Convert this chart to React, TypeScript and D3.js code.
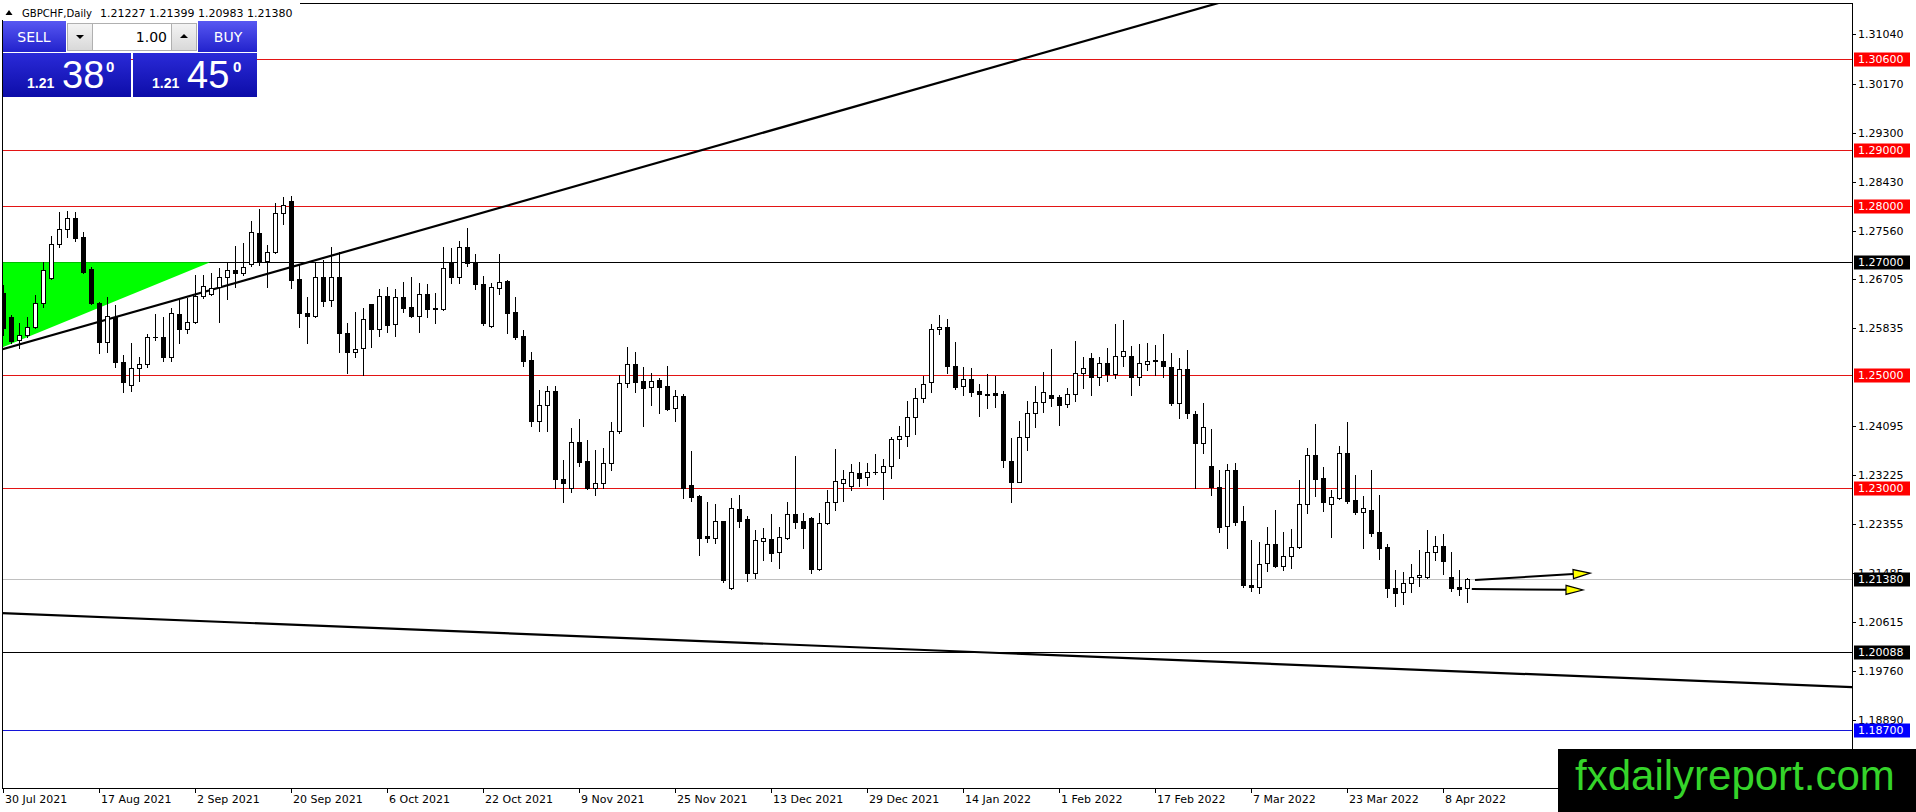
import * as d3 from "d3";
import { useEffect } from "react";

const W = 1916;
const H = 812;
const plot = { left: 2, top: 3, right: 1852, bottom: 788 };
const FONT = "'DejaVu Sans', Tahoma, 'Liberation Sans', Arial, sans-serif";

// header / trade panel text
const symbol = "GBPCHF,Daily";
const lastQuote = ["1.21227", "1.21399", "1.20983", "1.21380"];
const lotSize = "1.00";
const sellQuote = ["1.21", "38", "0"];
const buyQuote = ["1.21", "45", "0"];

// daily bars [open, high, low, close], weekdays from 30 Jul 2021
const ohlc: [number, number, number, number][] = [
  [1.2646, 1.266, 1.2571, 1.2584], [1.2603, 1.2607, 1.2557, 1.2561], [1.2562, 1.2592, 1.2548, 1.2571],
  [1.2571, 1.2603, 1.2568, 1.2585], [1.2585, 1.2642, 1.2584, 1.2628], [1.2628, 1.2701, 1.2621, 1.2686],
  [1.2672, 1.2747, 1.267, 1.2733], [1.2733, 1.2789, 1.2727, 1.2759], [1.2759, 1.2791, 1.2745, 1.2779],
  [1.2779, 1.2789, 1.2738, 1.2743], [1.2745, 1.2754, 1.2681, 1.2683], [1.2688, 1.2692, 1.2626, 1.2628],
  [1.2628, 1.2629, 1.2539, 1.2559], [1.2559, 1.2639, 1.2541, 1.2605], [1.2603, 1.2624, 1.2514, 1.2523],
  [1.2523, 1.2536, 1.247, 1.2488], [1.2483, 1.2557, 1.2472, 1.2513], [1.2513, 1.2532, 1.249, 1.252],
  [1.252, 1.2573, 1.2514, 1.2568], [1.2568, 1.2608, 1.2562, 1.2567], [1.2568, 1.2603, 1.2525, 1.2532],
  [1.2532, 1.2619, 1.2525, 1.261], [1.2608, 1.2633, 1.2557, 1.2582], [1.2582, 1.2637, 1.2575, 1.2594],
  [1.2594, 1.2678, 1.2592, 1.264], [1.264, 1.2678, 1.2637, 1.2658], [1.2644, 1.2681, 1.2642, 1.2655],
  [1.2656, 1.269, 1.2594, 1.2674], [1.2674, 1.2701, 1.2635, 1.2686], [1.2686, 1.2729, 1.2656, 1.2681],
  [1.2681, 1.2734, 1.2678, 1.2692], [1.2697, 1.2773, 1.2694, 1.2754], [1.2752, 1.2795, 1.2695, 1.2701],
  [1.2702, 1.2731, 1.2656, 1.2718], [1.2718, 1.2805, 1.2717, 1.2788], [1.2788, 1.2816, 1.2768, 1.2802],
  [1.2809, 1.2818, 1.2655, 1.2669], [1.267, 1.2695, 1.2585, 1.261], [1.261, 1.2639, 1.2557, 1.2605],
  [1.2605, 1.2701, 1.2603, 1.2674], [1.2674, 1.2704, 1.2623, 1.2631], [1.2633, 1.2727, 1.2623, 1.2674],
  [1.2674, 1.2718, 1.2541, 1.2575], [1.2575, 1.2592, 1.2504, 1.2541], [1.2541, 1.2612, 1.2532, 1.2546],
  [1.2548, 1.2619, 1.25, 1.26], [1.2626, 1.2627, 1.255, 1.2582], [1.2582, 1.2653, 1.2569, 1.264],
  [1.264, 1.2656, 1.2576, 1.2589], [1.2591, 1.2653, 1.2569, 1.2639], [1.2639, 1.2665, 1.2612, 1.2619],
  [1.2621, 1.2674, 1.2603, 1.2605], [1.2605, 1.2663, 1.2576, 1.2644], [1.2644, 1.2662, 1.2603, 1.2617],
  [1.2619, 1.2646, 1.2592, 1.2617], [1.2617, 1.2727, 1.2616, 1.269], [1.2701, 1.2725, 1.2663, 1.2674],
  [1.2674, 1.2738, 1.2663, 1.2727], [1.2727, 1.2761, 1.2694, 1.2699], [1.2701, 1.2715, 1.2653, 1.2662],
  [1.2662, 1.2676, 1.2589, 1.2592], [1.2587, 1.2663, 1.2586, 1.2656], [1.2655, 1.2715, 1.2644, 1.2665],
  [1.2667, 1.2669, 1.2575, 1.261], [1.2612, 1.2639, 1.2564, 1.2568], [1.2569, 1.258, 1.2516, 1.2525],
  [1.2527, 1.2541, 1.241, 1.2419], [1.2419, 1.2474, 1.2401, 1.2447], [1.2447, 1.2481, 1.2401, 1.2472],
  [1.2472, 1.2481, 1.23, 1.2316], [1.2316, 1.235, 1.2275, 1.2309], [1.23, 1.2406, 1.2293, 1.2382],
  [1.2382, 1.2422, 1.2339, 1.2346], [1.2348, 1.2385, 1.2298, 1.23], [1.23, 1.2367, 1.2287, 1.2309],
  [1.2309, 1.2371, 1.23, 1.2344], [1.2344, 1.2417, 1.2332, 1.2401], [1.2401, 1.25, 1.2397, 1.2486],
  [1.2486, 1.255, 1.2479, 1.252], [1.252, 1.2541, 1.247, 1.2488], [1.249, 1.2514, 1.241, 1.2477],
  [1.2479, 1.2504, 1.2447, 1.249], [1.2491, 1.2495, 1.2433, 1.2479], [1.2481, 1.2516, 1.2438, 1.244],
  [1.2442, 1.2474, 1.2419, 1.2463], [1.2463, 1.2467, 1.2282, 1.23], [1.2305, 1.2365, 1.2277, 1.2284],
  [1.2286, 1.2287, 1.2181, 1.2211], [1.2215, 1.2275, 1.2204, 1.2211], [1.2211, 1.2272, 1.2202, 1.2241],
  [1.2241, 1.2242, 1.2133, 1.2137], [1.2123, 1.2283, 1.2121, 1.2264], [1.2263, 1.2287, 1.2231, 1.2241],
  [1.2245, 1.225, 1.2135, 1.2149], [1.2149, 1.2225, 1.214, 1.2208], [1.2206, 1.2229, 1.2172, 1.2211],
  [1.2209, 1.2254, 1.217, 1.2185], [1.2186, 1.2231, 1.2158, 1.2213], [1.2211, 1.2275, 1.221, 1.2254],
  [1.2254, 1.2357, 1.2229, 1.224], [1.2241, 1.2256, 1.2194, 1.2229], [1.2247, 1.2248, 1.2149, 1.2156],
  [1.2156, 1.2256, 1.2154, 1.2238], [1.2238, 1.2296, 1.2236, 1.2275], [1.2275, 1.2369, 1.2261, 1.2312],
  [1.2309, 1.2332, 1.2277, 1.2316], [1.2303, 1.2342, 1.2296, 1.2328], [1.2326, 1.2346, 1.2303, 1.2318],
  [1.2319, 1.2344, 1.2305, 1.2328], [1.2328, 1.236, 1.2325, 1.2329], [1.2328, 1.2351, 1.228, 1.2339],
  [1.2339, 1.239, 1.2318, 1.2387], [1.2387, 1.241, 1.2353, 1.2392], [1.2392, 1.2454, 1.2374, 1.2426],
  [1.2426, 1.2477, 1.2396, 1.2459], [1.2459, 1.2499, 1.2452, 1.2484], [1.2488, 1.2591, 1.247, 1.2582],
  [1.2582, 1.2607, 1.2573, 1.2585], [1.2585, 1.26, 1.2504, 1.2516], [1.2516, 1.2559, 1.2476, 1.2479],
  [1.2481, 1.2514, 1.2465, 1.2493], [1.2493, 1.2513, 1.2463, 1.247], [1.2472, 1.2484, 1.2428, 1.2467],
  [1.2465, 1.2502, 1.2442, 1.2466], [1.2468, 1.2499, 1.2444, 1.2465], [1.2467, 1.2472, 1.2337, 1.235],
  [1.2348, 1.2389, 1.2275, 1.2311], [1.2311, 1.2419, 1.231, 1.239], [1.239, 1.2454, 1.2367, 1.2433],
  [1.2433, 1.2481, 1.2408, 1.2452], [1.2452, 1.2506, 1.2435, 1.247], [1.2465, 1.2546, 1.2445, 1.2459],
  [1.2461, 1.2465, 1.2412, 1.2447], [1.2449, 1.2477, 1.2444, 1.2467], [1.2467, 1.2561, 1.2454, 1.2504],
  [1.2504, 1.2532, 1.2477, 1.2513], [1.253, 1.2539, 1.2465, 1.2497], [1.2497, 1.2532, 1.2483, 1.2522],
  [1.2522, 1.2548, 1.249, 1.2502], [1.2502, 1.2591, 1.2495, 1.2534], [1.2534, 1.2598, 1.2516, 1.2543],
  [1.2534, 1.2552, 1.2465, 1.2497], [1.2497, 1.2555, 1.2483, 1.2522], [1.252, 1.2557, 1.2509, 1.2525],
  [1.2525, 1.2554, 1.25, 1.2526], [1.2525, 1.2573, 1.2497, 1.2516], [1.2514, 1.2539, 1.2447, 1.2451],
  [1.2451, 1.253, 1.2424, 1.2511], [1.2511, 1.2545, 1.2424, 1.2433], [1.2431, 1.2436, 1.23, 1.238],
  [1.238, 1.2451, 1.2362, 1.2408], [1.2339, 1.2404, 1.2287, 1.2302], [1.2302, 1.2332, 1.2222, 1.2231],
  [1.2233, 1.2342, 1.2194, 1.2332], [1.2332, 1.2344, 1.2234, 1.224], [1.2241, 1.2268, 1.2124, 1.2128],
  [1.2128, 1.2208, 1.2117, 1.2124], [1.2124, 1.2204, 1.2114, 1.2165], [1.2167, 1.2231, 1.2153, 1.2201],
  [1.2201, 1.2261, 1.216, 1.2162], [1.2162, 1.2222, 1.2155, 1.2179], [1.2179, 1.2227, 1.2158, 1.2195],
  [1.2195, 1.2314, 1.2194, 1.2271], [1.2271, 1.2371, 1.2256, 1.2358], [1.2358, 1.2413, 1.2286, 1.2316],
  [1.2318, 1.2337, 1.2259, 1.2275], [1.2271, 1.2296, 1.2213, 1.2284], [1.2282, 1.2374, 1.228, 1.2362],
  [1.2362, 1.2417, 1.2273, 1.2277], [1.2279, 1.2323, 1.2254, 1.2257], [1.2257, 1.2286, 1.2194, 1.2264],
  [1.2261, 1.2332, 1.2215, 1.222], [1.2222, 1.2287, 1.2174, 1.2194], [1.2195, 1.2201, 1.2107, 1.2123],
  [1.2123, 1.2155, 1.2091, 1.2114], [1.2116, 1.2151, 1.2094, 1.2132], [1.2132, 1.2165, 1.2115, 1.2142],
  [1.2142, 1.219, 1.2126, 1.2145], [1.2142, 1.2225, 1.2141, 1.2186], [1.2186, 1.2215, 1.2172, 1.2197],
  [1.2197, 1.2218, 1.2147, 1.217], [1.2142, 1.2186, 1.2117, 1.2123], [1.2124, 1.2155, 1.211, 1.2121],
  [1.21227, 1.21399, 1.20983, 1.2138],
];

const dateLabels = [
  "30 Jul 2021", "17 Aug 2021", "2 Sep 2021", "20 Sep 2021", "6 Oct 2021", "22 Oct 2021",
  "9 Nov 2021", "25 Nov 2021", "13 Dec 2021", "29 Dec 2021", "14 Jan 2022", "1 Feb 2022",
  "17 Feb 2022", "7 Mar 2022", "23 Mar 2022", "8 Apr 2022",
];

const priceTicks = [
  1.3104, 1.3017, 1.293, 1.2843, 1.2756, 1.26705, 1.25835, 1.24095, 1.23225, 1.22355,
  1.21485, 1.20615, 1.1976, 1.1889,
];

// horizontal levels drawn on the chart
const redLevels = [1.306, 1.29, 1.28, 1.25, 1.23];
const blackLevels = [1.27, 1.20088];
const blueLevels = [1.187];
const bidPrice = 1.2138;

// objects as [bar index, price] anchors
const risingLine: [number, number][] = [[0, 1.2546], [150, 1.3152]];
const fallingLine: [number, number][] = [[0, 1.2078], [231, 1.1947]];
const greenTriangle: [number, number][] = [[-2, 1.27], [25.9, 1.27], [-2, 1.2538]];
const arrows: [number, number][][] = [
  [[184, 1.2137], [198.4, 1.2149]],
  [[183.6, 1.2121], [197.5, 1.2119]],
];

const x = d3
  .scaleLinear()
  .domain([-0.125, 231.125])
  .range([plot.left, plot.right]);
const y = d3
  .scaleLinear()
  .domain([1.1768, 1.31598])
  .range([plot.bottom, plot.top]);

const crisp = (v: number) => Math.round(v) + 0.5;

// weekday calendar for the bars
const dates: Date[] = [];
for (let d = new Date(2021, 6, 30); dates.length < ohlc.length; d = d3.timeDay.offset(d, 1)) {
  if (d.getDay() !== 0 && d.getDay() !== 6) dates.push(d);
}
const fmt = d3.timeFormat("%-d %b %Y");

function extend(pts: [number, number][]) {
  const [[i0, p0], [i1, p1]] = pts;
  const k = (p1 - p0) / (i1 - i0);
  const a = -2;
  const b = 240;
  return [
    [x(a), y(p0 + k * (a - i0))],
    [x(b), y(p0 + k * (b - i0))],
  ];
}

function Arrow({ pts }: { pts: [number, number][] }) {
  const [x0, y0] = [x(pts[0][0]), y(pts[0][1])];
  const [x1, y1] = [x(pts[1][0]), y(pts[1][1])];
  const ang = Math.atan2(y1 - y0, x1 - x0);
  const len = 17;
  const hw = 4.5;
  const bx = x1 - len * Math.cos(ang);
  const by = y1 - len * Math.sin(ang);
  const px = -Math.sin(ang) * hw;
  const py = Math.cos(ang) * hw;
  return (
    <g>
      <line x1={x0} y1={y0} x2={bx} y2={by} stroke="#000" strokeWidth={2} />
      <polygon
        points={`${x1},${y1} ${bx + px},${by + py} ${bx - px},${by - py}`}
        fill="#ffff00"
        stroke="#000"
        strokeWidth={1.2}
      />
    </g>
  );
}

function LevelLabel({ price, bg }: { price: number; bg: string }) {
  const yy = Math.round(y(price));
  return (
    <g>
      <rect x={1854} y={yy - 6.5} width={56} height={14} fill={bg} />
      <text x={1858} y={yy + 0.5} dominantBaseline="central" fill="#fff" fontSize={11}>
        {price.toFixed(5)}
      </text>
    </g>
  );
}

function PricePanel({ x0, w, quote, label }: { x0: number; w: number; quote: string[]; label: string }) {
  const small = label === "SELL" ? 27 : 152;
  const big = label === "SELL" ? 62 : 187;
  const sup = label === "SELL" ? 106 : 233;
  return (
    <g>
      <rect x={x0} y={53} width={w} height={44} fill="url(#priceGrad)" />
      <text x={small} y={88} fill="#fff" fontSize={14} fontWeight="bold" fontFamily="'Liberation Sans', Arial, sans-serif">
        {quote[0]}
      </text>
      <text x={big} y={88} fill="#fff" fontSize={38} fontFamily="'Liberation Sans', Arial, sans-serif">
        {quote[1]}
      </text>
      <text x={sup} y={72} fill="#fff" fontSize={15} fontWeight="bold" fontFamily="'Liberation Sans', Arial, sans-serif">
        {quote[2]}
      </text>
    </g>
  );
}

export default function App() {
  useEffect(() => {
    document.body.style.margin = "0";
  }, []);

  const rising = extend(risingLine);
  const falling = extend(fallingLine);
  const tri = greenTriangle.map(([i, p]) => `${x(i)},${y(p)}`).join(" ");

  const dateTicks = dateLabels
    .map((lab) => ({ lab, i: dates.findIndex((d) => fmt(d) === lab) }))
    .filter((d) => d.i >= 0);

  return (
    <svg
      width={W}
      height={H}
      style={{ position: "fixed", left: 0, top: 0, background: "#fff" }}
      fontFamily={FONT}
    >
      <defs>
        <clipPath id="plotClip">
          <rect x={plot.left} y={plot.top} width={plot.right - plot.left} height={plot.bottom - plot.top} />
        </clipPath>
        <linearGradient id="btnGrad" x1="0" y1="0" x2="0" y2="1">
          <stop offset="0%" stopColor="#5757f2" />
          <stop offset="100%" stopColor="#2222cc" />
        </linearGradient>
        <linearGradient id="priceGrad" x1="0" y1="0" x2="0" y2="1">
          <stop offset="0%" stopColor="#2a2ad8" />
          <stop offset="100%" stopColor="#0d0da8" />
        </linearGradient>
        <linearGradient id="greyGrad" x1="0" y1="0" x2="0" y2="1">
          <stop offset="0%" stopColor="#f4f4f4" />
          <stop offset="100%" stopColor="#d8d8d8" />
        </linearGradient>
      </defs>

      <rect width={W} height={H} fill="#fff" />

      <g clipPath="url(#plotClip)" shapeRendering="crispEdges">
        {redLevels.map((p) => (
          <line key={p} x1={plot.left} x2={plot.right} y1={crisp(y(p))} y2={crisp(y(p))} stroke="#e31414" />
        ))}
        {blackLevels.map((p) => (
          <line key={p} x1={plot.left} x2={plot.right} y1={crisp(y(p))} y2={crisp(y(p))} stroke="#000" />
        ))}
        {blueLevels.map((p) => (
          <line key={p} x1={plot.left} x2={plot.right} y1={crisp(y(p))} y2={crisp(y(p))} stroke="#1414d8" />
        ))}
        <line x1={plot.left} x2={plot.right} y1={crisp(y(bidPrice))} y2={crisp(y(bidPrice))} stroke="#c0c0c0" />
      </g>

      <g clipPath="url(#plotClip)">
        <polygon points={tri} fill="#00ff00" />
        <line x1={rising[0][0]} y1={rising[0][1]} x2={rising[1][0]} y2={rising[1][1]} stroke="#000" strokeWidth={2.2} />
        <line x1={falling[0][0]} y1={falling[0][1]} x2={falling[1][0]} y2={falling[1][1]} stroke="#000" strokeWidth={2.2} />
      </g>

      <g clipPath="url(#plotClip)" shapeRendering="crispEdges">
        {ohlc.map(([o, h, l, c], i) => {
          const cx = Math.round(x(i));
          const yo = Math.round(y(o));
          const yc = Math.round(y(c));
          const top = Math.min(yo, yc);
          const bot = Math.max(yo, yc);
          const bull = c >= o;
          return (
            <g key={i}>
              <line x1={cx + 0.5} x2={cx + 0.5} y1={Math.round(y(h))} y2={Math.round(y(l)) + 1} stroke="#000" />
              {bot - top < 1 ? (
                <line x1={cx - 2} x2={cx + 3} y1={top + 0.5} y2={top + 0.5} stroke="#000" />
              ) : (
                <rect
                  x={cx - 1.5}
                  y={top + 0.5}
                  width={4}
                  height={bot - top}
                  fill={bull ? "#fff" : "#000"}
                  stroke="#000"
                />
              )}
            </g>
          );
        })}
      </g>

      <g clipPath="url(#plotClip)">
        {arrows.map((a, k) => (
          <Arrow key={k} pts={a} />
        ))}
      </g>

      {/* frame */}
      <rect
        x={plot.left + 0.5}
        y={plot.top + 0.5}
        width={plot.right - plot.left}
        height={plot.bottom - plot.top}
        fill="none"
        stroke="#000"
        shapeRendering="crispEdges"
      />

      {/* price axis */}
      <g fontSize={11} fill="#000">
        {priceTicks.map((p) => (
          <g key={p}>
            <line x1={plot.right} x2={plot.right + 4} y1={crisp(y(p))} y2={crisp(y(p))} stroke="#000" shapeRendering="crispEdges" />
            <text x={1858} y={Math.round(y(p)) + 0.5} dominantBaseline="central">
              {p.toFixed(5)}
            </text>
          </g>
        ))}
      </g>
      {redLevels.map((p) => (
        <LevelLabel key={p} price={p} bg="#ff0000" />
      ))}
      {blackLevels.map((p) => (
        <LevelLabel key={p} price={p} bg="#000" />
      ))}
      <LevelLabel price={bidPrice} bg="#000" />
      {blueLevels.map((p) => (
        <LevelLabel key={p} price={p} bg="#0000ff" />
      ))}

      {/* time axis */}
      <g fontSize={11} fill="#000">
        {dateTicks.map(({ lab, i }) => (
          <g key={lab}>
            <line x1={crisp(x(i))} x2={crisp(x(i))} y1={plot.bottom} y2={plot.bottom + 5} stroke="#000" shapeRendering="crispEdges" />
            <text x={Math.round(x(i)) + 2} y={803}>
              {lab}
            </text>
          </g>
        ))}
      </g>

      {/* header */}
      <rect x={0} y={0} width={300} height={20} fill="#fff" />
      <polygon points="5.5,15 12.5,15 9,10" fill="#000" />
      <text x={22} y={17} fontSize={11} textLength={70} lengthAdjust="spacingAndGlyphs">
        {symbol}
      </text>
      <text x={100} y={17} fontSize={11}>
        {lastQuote.join(" ")}
      </text>

      {/* one-click trading panel */}
      <g>
        <rect x={3} y={21} width={63} height={31} fill="url(#btnGrad)" />
        <text x={34} y={37} textAnchor="middle" dominantBaseline="central" fill="#fff" fontSize={14}>
          SELL
        </text>
        <rect x={67.5} y={23.5} width={25} height={27} fill="url(#greyGrad)" stroke="#b0b0b0" />
        <polygon points="76,35 84,35 80,39" fill="#000" />
        <rect x={92.5} y={23.5} width={79} height={27} fill="#fff" stroke="#b0b0b0" />
        <text x={167} y={37} textAnchor="end" dominantBaseline="central" fontSize={14}>
          {lotSize}
        </text>
        <rect x={171.5} y={23.5} width={25} height={27} fill="url(#greyGrad)" stroke="#b0b0b0" />
        <polygon points="180,38 188,38 184,34" fill="#000" />
        <rect x={198} y={21} width={59} height={31} fill="url(#btnGrad)" />
        <text x={228} y={37} textAnchor="middle" dominantBaseline="central" fill="#fff" fontSize={14}>
          BUY
        </text>
        <PricePanel x0={3} w={128} quote={sellQuote} label="SELL" />
        <PricePanel x0={133} w={124} quote={buyQuote} label="BUY" />
      </g>

      {/* watermark */}
      <rect x={1558} y={749} width={W - 1558} height={H - 749} fill="#000" />
      <text x={1575} y={790} fill="#35d42a" fontSize={42} fontFamily="'Liberation Sans', Arial, sans-serif">
        fxdailyreport.com
      </text>
    </svg>
  );
}
